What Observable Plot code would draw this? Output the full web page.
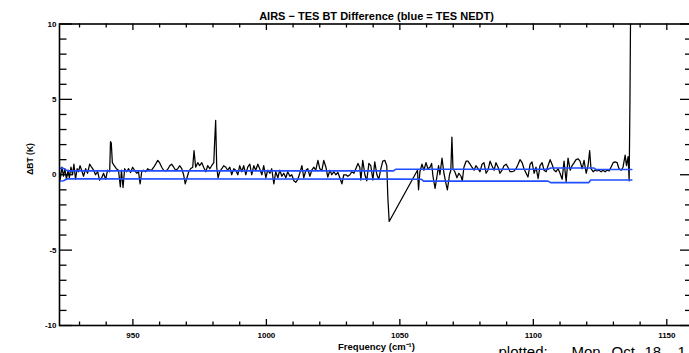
<!DOCTYPE html>
<html>
<head>
<meta charset="utf-8">
<script src="https://cdn.jsdelivr.net/npm/d3@7"></script>
<script src="https://cdn.jsdelivr.net/npm/@observablehq/plot@0.6"></script>
<style>
  html, body { margin: 0; padding: 0; background: #fff; overflow: hidden; }
  #chart { width: 689px; height: 353px; overflow: hidden; }
  #chart svg { max-width: none !important; }
</style>
</head>
<body>
<div id="chart"></div>
<script>
// AIRS minus TES brightness-temperature difference spectrum (K) vs. wavenumber (cm^-1)
const freq = [
  922.5, 922.8, 923.4, 924.0, 924.5, 925.1, 925.7, 926.2, 926.8, 927.4, 927.9, 928.5, 929.1, 929.6, 930.2, 930.8,
  931.5, 932.3, 933.0, 933.8, 934.5, 935.3, 936.0, 936.8, 937.5, 938.3, 939.0, 939.8, 940.5, 941.3, 941.6, 941.9,
  942.3, 943.0, 943.8, 944.6, 945.3, 945.7, 946.3, 946.9, 947.6, 948.4, 949.1, 949.9, 950.6, 951.4, 952.1, 952.7,
  953.3, 954.0, 954.8, 955.5, 956.3, 957.0, 957.8, 958.5, 959.3, 960.0, 960.8, 961.5, 962.3, 963.0, 963.8, 964.5,
  965.3, 966.0, 966.8, 967.5, 968.3, 969.0, 969.6, 970.1, 970.9, 971.6, 972.4, 972.9, 973.5, 974.3, 975.0, 975.8,
  976.5, 977.3, 978.0, 978.8, 979.5, 980.3, 980.6, 981.0, 981.4, 981.9, 982.5, 983.3, 984.0, 984.8, 985.5, 986.3,
  987.0, 987.8, 988.5, 989.3, 990.0, 990.8, 991.5, 992.3, 993.0, 993.8, 994.5, 995.3, 996.0, 996.8, 997.5, 998.3,
  999.0, 999.8, 1000.5, 1001.3, 1002.0, 1002.8, 1003.5, 1004.3, 1005.0, 1005.8, 1006.5, 1007.3, 1008.0, 1008.8, 1009.5, 1010.3,
  1011.0, 1011.8, 1012.5, 1013.3, 1014.0, 1014.8, 1015.5, 1016.3, 1017.0, 1017.8, 1018.5, 1019.3, 1020.0, 1020.8, 1021.5, 1022.3,
  1023.0, 1023.8, 1024.5, 1025.3, 1026.0, 1026.8, 1027.5, 1028.3, 1029.0, 1029.8, 1030.5, 1031.3, 1032.0, 1032.8, 1033.5, 1034.3,
  1035.0, 1035.4, 1036.1, 1036.9, 1037.6, 1038.4, 1039.1, 1039.9, 1040.6, 1041.4, 1042.1, 1042.9, 1043.6, 1044.4, 1045.1, 1045.5,
  1046.0, 1056.6, 1057.0, 1057.5, 1058.3, 1059.0, 1059.8, 1060.5, 1061.3, 1061.9, 1062.4, 1063.2, 1063.9, 1064.5, 1065.0, 1065.8,
  1066.5, 1067.3, 1067.8, 1068.6, 1069.1, 1069.5, 1069.9, 1070.6, 1071.4, 1072.1, 1072.9, 1073.4, 1074.0, 1074.8, 1075.5, 1076.3,
  1077.0, 1077.8, 1078.5, 1079.3, 1080.0, 1080.8, 1081.5, 1082.3, 1083.0, 1083.8, 1084.5, 1085.3, 1086.0, 1086.8, 1087.5, 1088.3,
  1089.0, 1089.8, 1090.5, 1091.3, 1092.0, 1092.8, 1093.5, 1094.3, 1095.0, 1095.8, 1096.5, 1097.3, 1098.0, 1098.8, 1099.5, 1100.3,
  1101.0, 1101.8, 1102.5, 1103.3, 1104.0, 1104.8, 1105.5, 1106.3, 1107.0, 1107.8, 1108.5, 1109.3, 1110.0, 1110.8, 1111.5, 1112.3,
  1113.0, 1113.8, 1114.5, 1115.3, 1116.0, 1116.8, 1117.5, 1118.3, 1119.0, 1119.8, 1120.5, 1121.1, 1121.6, 1122.4, 1123.1, 1123.9,
  1124.6, 1125.4, 1126.1, 1126.9, 1127.6, 1128.4, 1129.1, 1129.9, 1130.6, 1131.4, 1132.1, 1132.9, 1133.6, 1134.4, 1134.9, 1135.5,
  1135.9, 1136.2, 1136.6
];
const diff = [
  0.2, -0.3, 0.5, -0.1, 0.4, -0.3, 0.3, -0.2, 0.5, 0.0, 0.7, -0.3, 0.4, 0.2, 0.6, 0.3,
  -0.1, 0.4, 0.1, 0.7, 0.5, 0.3, 0.0, 0.2, -0.35, -0.2, 0.1, -0.3, 0.3, 0.2, 2.2, 2.1,
  0.8, 0.6, 0.4, 0.3, -0.8, 0.3, -0.85, 0.4, 0.2, 0.4, 0.15, 0.5, 0.3, 0.1, 0.2, -0.6,
  0.2, 0.3, 0.2, 0.4, 0.3, 0.3, 0.5, 0.7, 0.95, 0.8, 0.5, 0.3, 0.25, 0.35, 0.6, 0.7,
  0.5, 0.3, 0.4, 0.6, 0.4, 0.0, -0.6, -0.3, 0.2, 0.4, 0.5, 1.6, 0.5, 0.8, 0.6, 0.8,
  0.5, 0.2, 0.6, 0.4, 0.6, 0.8, 2.1, 3.6, 0.5, -0.2, 0.2, 0.4, 0.6, 0.5, 0.3, 0.5,
  0.0, 0.4, 0.3, 0.0, 0.6, 0.2, 0.6, 0.0, 0.5, 0.7, 0.0, 0.6, 0.3, 0.7, 0.4, 0.0,
  0.6, -0.2, 0.3, 0.1, 0.4, -0.6, 0.2, -0.2, 0.3, -0.1, 0.1, -0.2, 0.2, -0.1, 0.0, -0.4,
  -0.5, -0.3, 0.1, 0.6, -0.2, 0.3, 0.4, -0.1, 0.3, 0.5, 0.3, 0.95, 0.4, 0.3, 0.95, 0.5,
  -0.15, 0.3, 0.0, 0.2, 0.0, 0.15, -0.2, -0.6, 0.0, 0.0, -0.1, 0.0, 0.2, 0.1, 0.4, 0.75,
  0.5, -0.35, 0.95, 0.0, -0.4, 0.75, 0.6, -0.35, 0.85, 0.0, -0.3, 0.4, 0.9, 0.95, 0.6, -1.5,
  -3.1, 0.3, -1.0, 0.2, 0.7, 0.3, 0.8, 0.4, 0.5, 0.75, -0.1, -0.9, -0.1, 0.6, 0.0, 1.1,
  0.1, -0.6, -1.0, 0.0, 0.3, 2.5, 0.4, 0.2, -0.2, 0.1, -0.1, -0.4, 0.5, 0.9, 0.9, 0.7,
  0.5, 0.3, 0.6, 0.4, 0.2, 0.7, 0.8, 0.1, 0.3, 0.9, 0.6, 0.3, 0.8, 0.5, 0.1, 0.3,
  0.6, 0.7, 0.5, 0.2, 0.2, 0.25, 0.4, 0.7, 1.0, 0.8, 0.4, 0.1, -0.15, 0.7, 0.85, 0.1,
  0.5, -0.25, 0.6, 0.8, 0.3, 0.2, 0.6, 1.0, 0.7, 0.3, 0.2, 0.4, 0.1, -0.3, 0.9, -0.45,
  1.1, 0.3, 0.6, 0.8, 1.0, 1.05, 0.9, 0.4, 0.95, 0.1, 0.6, 1.6, 0.4, 0.2, 0.3, 0.25,
  0.3, 0.2, 0.3, 0.2, 0.3, 0.25, 0.5, 0.8, 0.85, 0.8, 0.4, 0.3, 0.5, 1.3, 0.6, 1.2,
  -0.4, 5.0, 15.0
];

// TES noise-equivalent delta-T envelope (upper and lower traces)
const nedtFreq  = [922.5, 924.0, 925.5, 1047.6, 1048.4, 1058.1, 1058.9, 1105.5, 1106.5, 1120.8, 1121.5, 1122.6, 1123.4, 1136.9];
const nedtUpper = [0.42, 0.42, 0.26, 0.26, 0.36, 0.36, 0.36, 0.36, 0.45, 0.45, 0.45, 0.45, 0.35, 0.35];
const nedtLower = [-0.42, -0.40, -0.27, -0.29, -0.29, -0.30, -0.42, -0.42, -0.52, -0.52, -0.35, -0.35, -0.35, -0.35];

// Axis ticks
const xMajor = [950, 1000, 1050, 1100, 1150];
const xMinor = [930, 940, 960, 970, 980, 990, 1010, 1020, 1030, 1040, 1060, 1070, 1080, 1090, 1110, 1120, 1130, 1140, 1160];
const yMajor = [-10, -5, 0, 5, 10];
const yMinor = [-9, -8, -7, -6, -4, -3, -2, -1, 1, 2, 3, 4, 6, 7, 8, 9];

const titleText = "AIRS \u2212 TES BT Difference (blue = TES NEDT)";
const xLabelText = "Frequency (cm\u207B\u00B9)";
const yLabelText = "\u0394BT (K)";
const stampWords = ["plotted:", "Mon", "Oct", "18", "1"];

const spectrum = freq.map((f, i) => ({f, v: diff[i]}));
const upper = nedtFreq.map((f, i) => ({f, v: nedtUpper[i]}));
const lower = nedtFreq.map((f, i) => ({f, v: nedtLower[i]}));

const W = 700, H = 372;
const mL = 59, mR = 7, mT = 23.5, mB = 47;
const fw = W - mL - mR, fh = H - mT - mB;
const blue = "#1f4dff";
const font = "'Liberation Sans', Arial, sans-serif";

// the date stamp is set word by word, wide spaced, below the plot's lower right
const stampStarts = [498, 571, 611, 644, 677];
const stampMarks = stampWords.map((w, i) =>
  Plot.text([w], {frameAnchor: "bottom-left", lineAnchor: "middle", textAnchor: "start", dx: stampStarts[i] - mL, dy: 26.7, fontSize: 15})
);

const chart = Plot.plot({
  width: W,
  height: H,
  marginLeft: mL,
  marginRight: mR,
  marginTop: mT,
  marginBottom: mB,
  style: {fontFamily: font, fontSize: "8px", color: "black", background: "white", overflow: "visible", maxWidth: "none"},
  x: {domain: [922.5, 1160]},
  y: {domain: [-10, 10]},
  marks: [
    Plot.line(spectrum, {x: "f", y: "v", stroke: "black", strokeWidth: 1.25, clip: true}),
    Plot.line(upper, {x: "f", y: "v", stroke: blue, strokeWidth: 1.6, clip: true}),
    Plot.line(lower, {x: "f", y: "v", stroke: blue, strokeWidth: 1.6, clip: true}),
    Plot.frame({stroke: "black", strokeWidth: 1.6}),
    // inward ticks on all four sides
    Plot.tickX(xMajor, {insetTop: fh - 6, stroke: "black", strokeWidth: 1.3}),
    Plot.tickX(xMinor, {insetTop: fh - 3.5, stroke: "black", strokeWidth: 1.3}),
    Plot.tickX(xMajor, {insetBottom: fh - 6.5, stroke: "black", strokeWidth: 1.3}),
    Plot.tickX(xMinor, {insetBottom: fh - 4, stroke: "black", strokeWidth: 1.3}),
    Plot.tickY(yMajor, {insetRight: fw - 13, stroke: "black", strokeWidth: 1.3}),
    Plot.tickY(yMinor, {insetRight: fw - 7.5, stroke: "black", strokeWidth: 1.3}),
    Plot.tickY(yMajor, {insetLeft: fw - 13, stroke: "black", strokeWidth: 1.3}),
    Plot.tickY(yMinor, {insetLeft: fw - 8, stroke: "black", strokeWidth: 1.3}),
    Plot.axisX({ticks: xMajor, tickSize: 0, tickPadding: 7, tickFormat: d => String(d), label: null, fontSize: 8, fontWeight: 600}),
    Plot.axisY({ticks: yMajor, tickSize: 0, tickPadding: 3, tickFormat: d => String(d), label: null, fontSize: 8, fontWeight: 600}),
    Plot.text([titleText], {frameAnchor: "top", lineAnchor: "middle", dy: -7.5, fontSize: 11, fontWeight: 600, ariaLabel: "title"}),
    Plot.text([xLabelText], {frameAnchor: "bottom", lineAnchor: "middle", dy: 21.5, fontSize: 9.5, fontWeight: 600}),
    Plot.text([yLabelText], {frameAnchor: "left", lineAnchor: "middle", dx: -29, rotate: -90, fontSize: 8.5, fontWeight: 600}),
    ...stampMarks
  ]
});

// slightly open letter spacing on the title
d3.select(chart).selectAll('g[aria-label="title"] text').style("letter-spacing", "1.1px");

document.getElementById("chart").appendChild(chart);
</script>
</body>
</html>
